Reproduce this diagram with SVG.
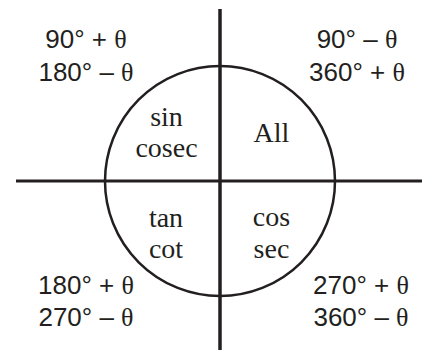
<svg xmlns="http://www.w3.org/2000/svg" width="424" height="350" viewBox="0 0 424 350">
<style>
.ang{font-family:"Liberation Sans",Arial,sans-serif;font-size:26px;fill:#231f20;text-anchor:middle}
.th{font-family:"Liberation Serif","Times New Roman",serif}
.fn{font-family:"Liberation Serif","Times New Roman",serif;font-size:28px;fill:#231f20;text-anchor:middle}
.ax{stroke:#231f20;fill:none}
</style>
<rect width="424" height="350" fill="#ffffff"/>
<g id="connectors">
<circle cx="220" cy="181" r="115" class="ax" stroke-width="2.5"/>
<line x1="16" y1="181" x2="422" y2="181" class="ax" stroke-width="3"/>
<line x1="220" y1="9" x2="220" y2="350" class="ax" stroke-width="3.5"/>
</g>
<g id="q2-angles">
<text class="ang" x="86" y="48">90° + <tspan class="th">θ</tspan></text>
<text class="ang" x="86" y="81">180° – <tspan class="th">θ</tspan></text>
</g>
<g id="q1-angles">
<text class="ang" x="357" y="48">90° – <tspan class="th">θ</tspan></text>
<text class="ang" x="357" y="81">360° + <tspan class="th">θ</tspan></text>
</g>
<g id="q3-angles">
<text class="ang" x="86" y="294">180° + <tspan class="th">θ</tspan></text>
<text class="ang" x="86" y="326">270° – <tspan class="th">θ</tspan></text>
</g>
<g id="q4-angles">
<text class="ang" x="361" y="294">270° + <tspan class="th">θ</tspan></text>
<text class="ang" x="361" y="326">360° – <tspan class="th">θ</tspan></text>
</g>
<g id="q2-fn">
<text class="fn" x="166.5" y="126">sin</text>
<text class="fn" x="166.5" y="157">cosec</text>
</g>
<g id="q1-fn">
<text class="fn" x="271.5" y="142">All</text>
</g>
<g id="q3-fn">
<text class="fn" x="166" y="227">tan</text>
<text class="fn" x="166" y="258">cot</text>
</g>
<g id="q4-fn">
<text class="fn" x="271.5" y="226">cos</text>
<text class="fn" x="271.5" y="258">sec</text>
</g>
</svg>
